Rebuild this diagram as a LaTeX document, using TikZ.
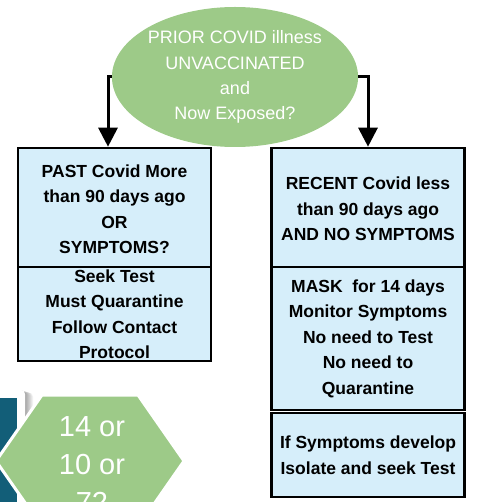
\documentclass[tikz,border=0pt]{standalone}
\usepackage{fontspec}
\setmainfont{Liberation Sans}
\usetikzlibrary{arrows.meta,shapes.geometric}
\definecolor{exgreen}{RGB}{157,202,136}
\definecolor{boxblue}{RGB}{214,238,250}
\definecolor{tealdark}{RGB}{18,94,120}
\begin{document}
\begin{tikzpicture}[x=1pt,y=-1pt,
  box/.style={draw=black, line width=2.6pt, fill=boxblue, inner sep=0pt, minimum width=193pt},
  boxtext/.style={align=center, inner sep=0pt, font=\bfseries\fontsize{17.5}{25.5}\selectfont},
  arr/.style={line width=3pt, -{Triangle[width=19pt,length=19pt]}}]
\useasboundingbox (0,0) rectangle (476,502);
\clip (0,0) rectangle (476,502);
% ellipse
\node[ellipse, fill=exgreen, minimum width=226pt, minimum height=140pt, inner sep=0pt,
  text=white, align=center, font=\fontsize{18}{25.3}\selectfont] (q) at (235,77)
  {PRIOR COVID illness\\UNVACCINATED\\and\\Now Exposed?};
% boxes
\node[box, minimum height=119pt] (pastq) at (114.5,207.5) {};
\node[box, minimum height=94pt] (pasta) at (114.5,314) {};
\node[box, minimum height=119pt] (recq) at (368,207.5) {};
\node[box, minimum height=143pt] (reca) at (368,338.5) {};
\node[box, minimum height=84pt] (recs) at (368,455) {};
\node[boxtext] (pastqt) at ([yshift=-1.5pt]pastq.center) {PAST Covid More\\than 90 days ago\\OR\\SYMPTOMS?};
\node[boxtext] (pastat) at (pasta.center) {Seek Test\\Must Quarantine\\Follow Contact\\Protocol};
\node[boxtext] (recqt) at ([yshift=-1.5pt]recq.center) {RECENT Covid less\\than 90 days ago\\AND NO SYMPTOMS};
\node[boxtext] (recat) at (reca.center) {MASK\ \ for 14 days\\Monitor Symptoms\\No need to Test\\No need to\\Quarantine};
\node[boxtext] (recst) at (recs.center) {If Symptoms develop\\Isolate and seek Test};
% connectors
\draw[arr] (q.west) -| ([xshift=-6.5pt]pastq.north);
\draw[arr] (q.east) -| (recq.north);
% bottom-left decoration with soft shadow
\foreach \d in {1,2,...,8}{
  \fill[black, opacity=0.05, rounded corners=4pt] (-10,390+\d/3) rectangle (25+\d,520);
}
\fill[white, rounded corners=4pt] (-10,390) rectangle (25,520);
\fill[tealdark] (-10,398) rectangle (17,520);
\draw[white, line width=3pt, fill=exgreen] (42,395) -- (138,395) -- (184,461) -- (138,527) -- (42,527) -- (-4,461) -- cycle;
\node[text=white, align=center, inner sep=0pt, font=\fontsize{29}{38}\selectfont] (hext) at (92,465) {14 or\\10 or\\72};
\end{tikzpicture}
\end{document}
